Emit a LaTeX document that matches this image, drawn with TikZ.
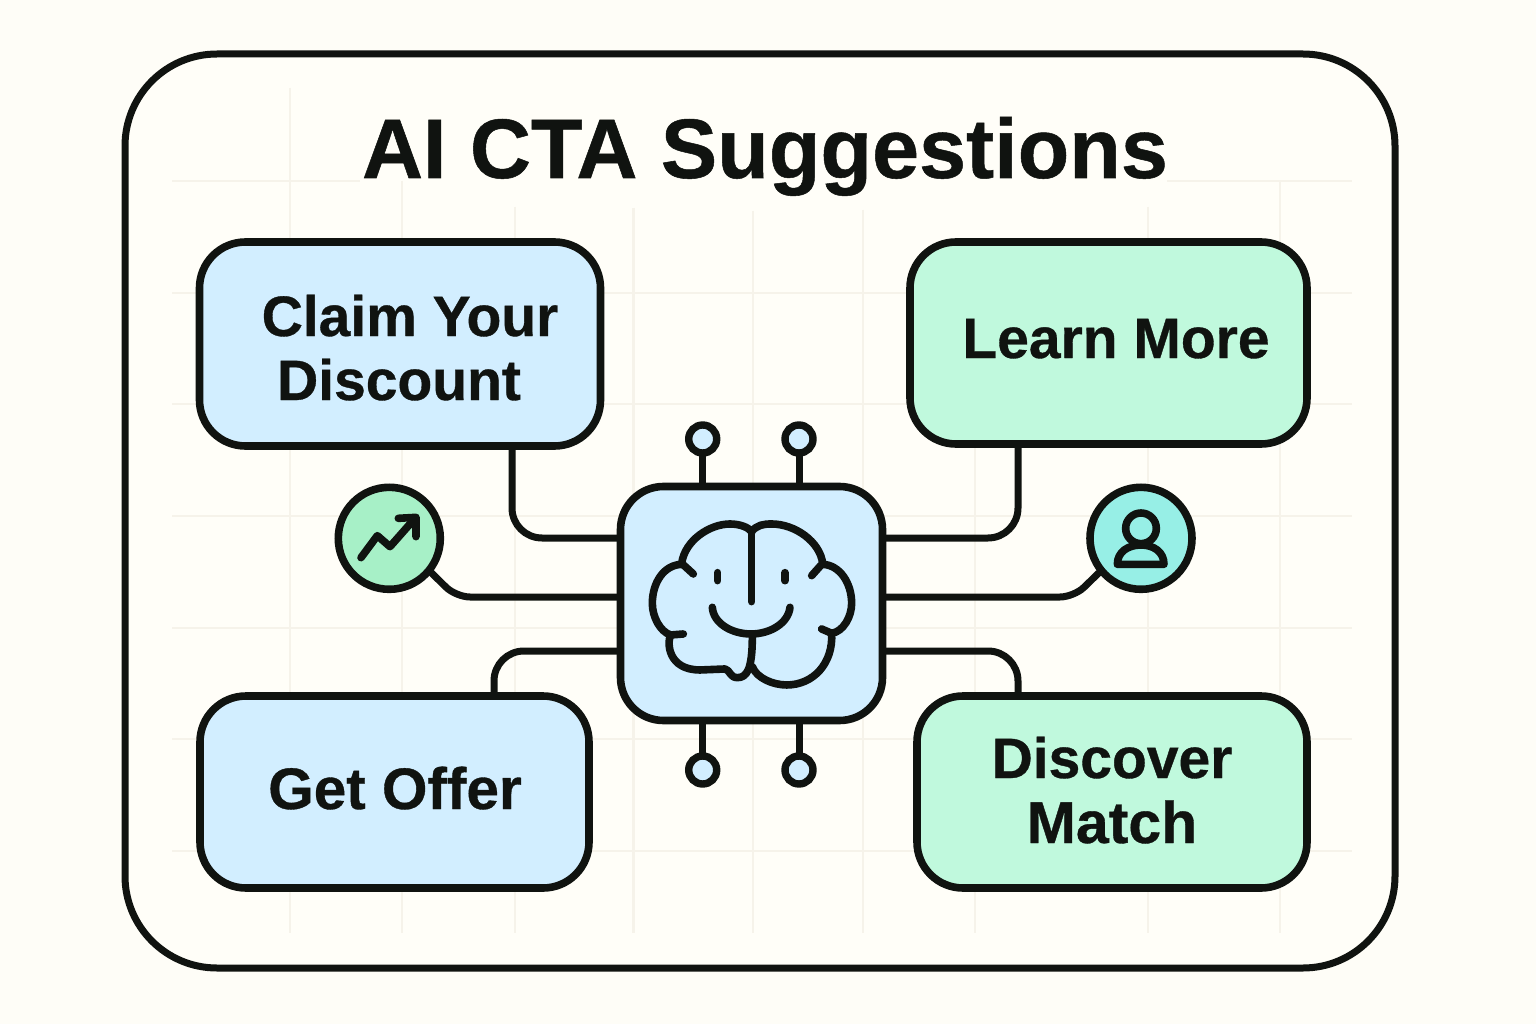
\documentclass[tikz,border=0pt]{standalone}
\usepackage{fontspec}
\setmainfont[BoldFeatures={FakeBold=0.6}]{Liberation Sans}
\definecolor{pagebg}{HTML}{FEFDF7}
\definecolor{framebg}{HTML}{FFFEF8}
\definecolor{gridline}{HTML}{F6F3EA}
\definecolor{ink}{HTML}{101310}
\definecolor{skyfill}{HTML}{D2EEFF}
\definecolor{mintfill}{HTML}{C0F9DD}
\definecolor{trendfill}{HTML}{A7F0C7}
\definecolor{userfill}{HTML}{97EFE6}
\tikzset{
	ctabox/.style={draw=ink, line width=7.6pt, rounded corners=46pt, inner sep=0pt, outer sep=0pt},
	iconcircle/.style={circle, draw=ink, line width=7.6pt, minimum width=102pt, inner sep=0pt, outer sep=0pt},
	pincircle/.style={circle, draw=ink, fill=skyfill, line width=7.4pt, minimum width=28pt, inner sep=0pt, outer sep=0pt},
	wire/.style={draw=ink, line width=7pt, rounded corners=30pt},
	glyph/.style={draw=ink, line width=7.6pt, line cap=round, line join=round},
	gridrule/.style={draw=gridline, line width=2.5pt},
	ctatext/.style={text=ink, font=\fontsize{57}{60}\selectfont\bfseries, anchor=base, inner sep=0pt}
}
\begin{document}
\begin{tikzpicture}[x=1pt,y=-1pt]
	
	\useasboundingbox (0,0) rectangle (1536,1024);
	\fill[pagebg] (0,0) rectangle (1536,1024);
	
	% Frame
	
	\node[draw=ink, fill=framebg, line width=7pt, rounded corners=92pt, minimum width=1270pt, minimum height=914pt, inner sep=0pt]
	(frame) at (760,511) {};
	
	% Grid
	
	\foreach \gx/\gtop in {290/88,402/181,515/207,633.5/208,753/211,863/210,975/447,1148/207,1280/181}
	\draw[gridrule] (\gx,\gtop) -- (\gx,933);
	\foreach \gy in {293,404,516,628,739,851}
	\draw[gridrule] (172,\gy) -- (1352,\gy);
	\draw[gridrule] (172,181) -- (360,181);
	\draw[gridrule] (1167,181) -- (1352,181);
	
	% Title
	
	\node[text=ink, font=\fontsize{84.5}{90}\selectfont\bfseries, anchor=base, inner sep=0pt]
	(title) at (765,178) {AI CTA Suggestions};
	
	% Boxes
	
	\node[ctabox, fill=skyfill, minimum width=401pt, minimum height=204pt]
	(claim) at (400,344) {};
	\node[ctabox, fill=mintfill, minimum width=397pt, minimum height=202pt]
	(learn) at (1108.5,343) {};
	\node[ctabox, fill=skyfill, minimum width=389pt, minimum height=192pt]
	(offer) at (394.5,792) {};
	\node[ctabox, fill=mintfill, minimum width=390pt, minimum height=192pt]
	(match) at (1112,792) {};
	
	% Box text
	
	\node[ctatext] (claimA) at (410,336) {Claim Your};
	\node[ctatext] (claimB) at (399,400) {Discount};
	\node[ctatext] (learnA) at (1116,358) {Learn More};
	\node[ctatext, font=\fontsize{58.5}{60}\selectfont\bfseries] (offerA) at (395,809) {Get Offer};
	\node[ctatext] (matchA) at (1112,778) {Discover};
	\node[ctatext, font=\fontsize{59}{60}\selectfont\bfseries] (matchB) at (1112,843) {Match};
	
	% Chip
	
	\node[ctabox, fill=skyfill, rounded corners=43pt, minimum width=262pt, minimum height=234pt]
	(chip) at (751.5,603.5) {};
	
	% Pins
	
	\node[pincircle] (pinNW) at (702.7,439) {};
	\node[pincircle] (pinNE) at (799,439) {};
	\node[pincircle] (pinSW) at (702.7,770) {};
	\node[pincircle] (pinSE) at (799,770) {};
	
	\draw[wire] (pinNW.south) -- (pinNW |- chip.north);
	\draw[wire] (pinNE.south) -- (pinNE |- chip.north);
	\draw[wire] (pinSW.north) -- (pinSW |- chip.south);
	\draw[wire] (pinSE.north) -- (pinSE |- chip.south);
	
	% Icon circles
	
	\node[iconcircle, fill=trendfill] (trend) at (389.3,538.3) {};
	\node[iconcircle, fill=userfill] (user) at (1141,538.3) {};
	
	% Chip ports
	
	\coordinate (chipW1) at (620.5,538);
	\coordinate (chipW2) at (620.5,597);
	\coordinate (chipW3) at (620.5,651);
	\coordinate (chipE1) at (882.5,538);
	\coordinate (chipE2) at (882.5,597);
	\coordinate (chipE3) at (882.5,651);
	
	\coordinate (claimOut) at (512,446);
	\coordinate (learnOut) at (1018,444);
	\coordinate (offerOut) at (494,696);
	\coordinate (matchOut) at (1018,696);
	
	\coordinate (trendBend) at (456,597);
	\coordinate (userBend) at (1074,597);
	
	% EDGE
	
	\draw[wire] (claimOut) |- (chipW1);
	\draw[wire] (learnOut) |- (chipE1);
	\draw[wire] (offerOut) |- (chipW3);
	\draw[wire] (matchOut) |- (chipE3);
	\draw[wire, rounded corners=14pt] (trend.-39) -- (trendBend) -- (chipW2);
	\draw[wire, rounded corners=14pt] (user.-141) -- (userBend) -- (chipE2);
	
	% Brain
	
	\begin{scope}[shift={(600,410)}, x=0.3333pt, y=-0.3333pt]
		\draw[glyph] (455,365) -- (455,575);
		\draw[glyph] (280,492) -- (245,460) .. controls (255,390) and (330,342) .. (390,342) .. controls (420,342) and (445,352) .. (455,365) .. controls (470,345) and (490,342) .. (515,342) .. controls (585,342) and (660,395) .. (668,460) -- (635,497);
		\draw[glyph] (245,463) .. controls (190,465) and (157,520) .. (157,580) .. controls (157,620) and (180,665) .. (212,675) -- (250,672);
		\draw[glyph] (212,675) .. controls (200,700) and (205,780) .. (300,780) -- (375,777) .. controls (390,780) and (390,803) .. (412,803) .. controls (440,803) and (457,780) .. (457,680);
		\draw[glyph] (457,770) .. controls (470,805) and (520,825) .. (560,825) .. controls (640,825) and (700,760) .. (695,670);
		\draw[glyph] (668,463) .. controls (720,465) and (755,520) .. (755,580) .. controls (755,620) and (730,665) .. (695,670) -- (665,657);
		\draw[glyph] (353,488) -- (353,512);
		\draw[glyph] (555,488) -- (555,512);
		\draw[glyph] (337,592) .. controls (340,640) and (395,672) .. (453,672) .. controls (510,672) and (565,640) .. (570,592);
	\end{scope}
	
	% Trend arrow
	
	\begin{scope}[shift={(320,470)}, x=0.3333pt, y=-0.3333pt]
		\draw[glyph] (123,263) -- (172,197) -- (210,230) -- (285,145);
		\draw[glyph] (235,145) -- (288,142) -- (288,200);
	\end{scope}
	
	% User
	
	\begin{scope}[shift={(1060,470)}, x=0.3333pt, y=-0.3333pt]
		\draw[glyph] (243,175) circle[radius=46];
		\draw[glyph] (172,283) .. controls (172,245) and (205,225) .. (243,225) .. controls (280,225) and (312,245) .. (312,283) -- cycle;
	\end{scope}
	
\end{tikzpicture}
\end{document}
